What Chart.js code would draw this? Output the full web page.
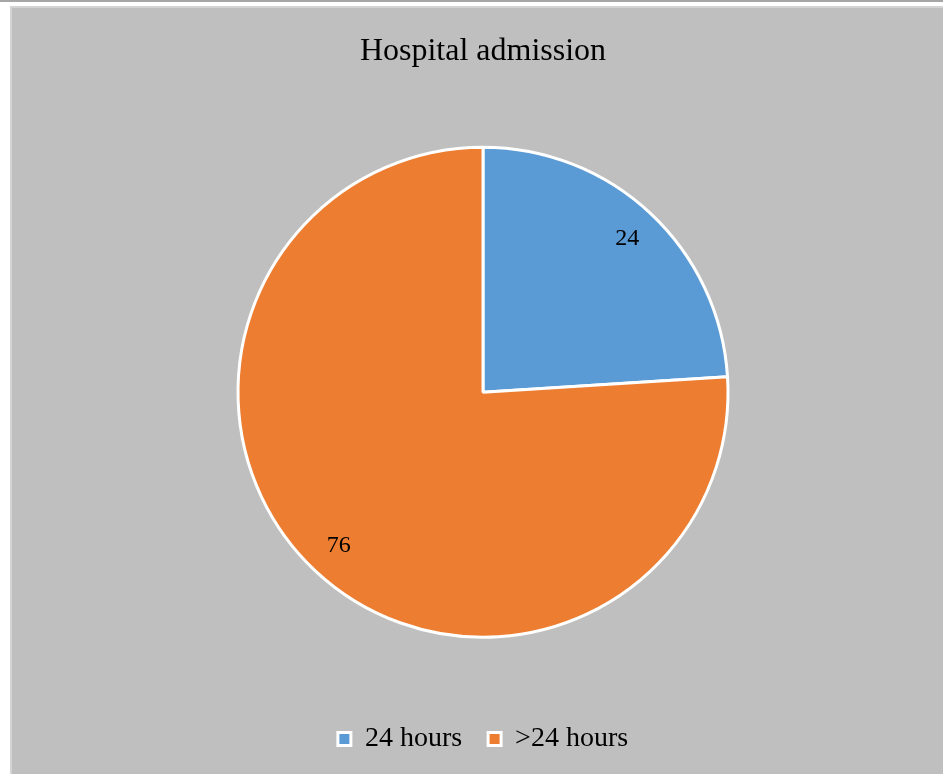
<!DOCTYPE html>
<html>
<head>
    <title>Hospital admission</title>
    <script src="https://cdn.jsdelivr.net/npm/chart.js@4.4.0/dist/chart.umd.min.js"></script>
    <style>
        body { margin: 0; background: #ffffff; }
        .topline { position: absolute; left: 0; top: 0; width: 943px; height: 2px; background: #a6a6a6; }
        .chart-box {
            position: absolute; left: 10px; top: 6px; width: 931px; height: 766px;
            background: #bfbfbf; border-left: 2px solid #d4d4d4; border-top: 2px solid #d4d4d4;
        }
    </style>
</head>
<body>
    <div class="topline"></div>
    <div class="chart-box">
        <canvas id="pieChart" width="931" height="766"></canvas>
    </div>

    <script>
        // chart data
        const categories = ['24 hours', '>24 hours'];
        const values = [24, 76];
        const sliceColors = ['#5b9bd5', '#ed7d31'];

        // draws the value inside each slice
        const sliceLabels = {
            id: 'sliceLabels',
            afterDatasetsDraw(chart) {
                const ctx = chart.ctx;
                const meta = chart.getDatasetMeta(0);
                ctx.save();
                ctx.font = '24px "Liberation Serif"';
                ctx.fillStyle = '#000000';
                ctx.textAlign = 'center';
                ctx.textBaseline = 'middle';
                meta.data.forEach((arc, i) => {
                    const p = arc.getProps(['x', 'y', 'startAngle', 'endAngle', 'outerRadius']);
                    const mid = (p.startAngle + p.endAngle) / 2;
                    const r = p.outerRadius * 0.86;
                    ctx.fillText(values[i], p.x + Math.cos(mid) * r, p.y + Math.sin(mid) * r);
                });
                ctx.restore();
            }
        };

        const ctx = document.getElementById('pieChart').getContext('2d');
        const pieChart = new Chart(ctx, {
            type: 'pie',
            data: {
                labels: categories,
                datasets: [{
                    data: values,
                    backgroundColor: sliceColors,
                    borderColor: '#ffffff',
                    borderWidth: 3
                }]
            },
            options: {
                responsive: false,
                animation: false,
                radius: 245,
                layout: { padding: { left: 11, right: 0, top: 0, bottom: 11 } },
                plugins: {
                    tooltip: { enabled: false },
                    title: {
                        display: true,
                        text: 'Hospital admission',
                        color: '#000000',
                        font: { family: '"Liberation Serif"', size: 32, weight: 'normal' },
                        padding: { top: 24, bottom: 15 }
                    },
                    legend: {
                        position: 'bottom',
                        labels: {
                            color: '#000000',
                            font: { family: '"Liberation Serif"', size: 28 },
                            boxWidth: 13,
                            boxHeight: 13,
                            padding: 26
                        }
                    }
                }
            },
            plugins: [sliceLabels]
        });
    </script>
</body>
</html>
